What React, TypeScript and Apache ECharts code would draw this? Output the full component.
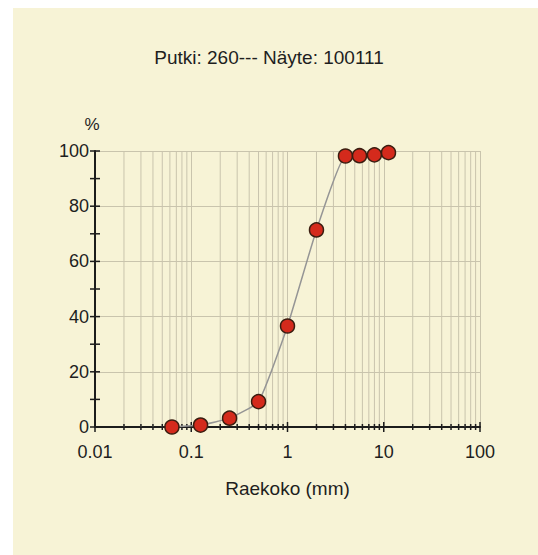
import React, { useEffect, useRef } from "react";
import * as echarts from "echarts";

const titleText = "Putki: 260--- Näyte: 100111";
const xName = "Raekoko (mm)";
const yName = "%";
const grainSizes = [0.063, 0.125, 0.25, 0.5, 1, 2, 4, 5.6, 8, 11.2];
const passingPct = [0, 0.7, 3.2, 9.2, 36.6, 71.4, 98.2, 98.3, 98.6, 99.4];
const xDecades = [0.01, 0.1, 1, 10, 100];
const xMinorMultipliers = [2, 3, 4, 5, 6, 7, 8, 9];
const yMajorTicks = [0, 20, 40, 60, 80, 100];
const yMinorTicks = [10, 30, 50, 70, 90];

const FONT = "'Liberation Sans', Arial, sans-serif";
const BG = "#f7f3d6";
const GRID = "#c9c4ad";
const AXIS = "#1c1c1c";
const TEXT = "#1e1e1e";

export default function App() {
  const ref = useRef<HTMLDivElement>(null);
  useEffect(() => {
    if (!ref.current) return;
    const chart = echarts.init(ref.current, undefined, { renderer: "svg" });
    const xMinor: number[] = [];
    xDecades.slice(0, -1).forEach((d) =>
      xMinorMultipliers.forEach((m) => xMinor.push(+(d * m).toPrecision(3)))
    );
    const xTickData = [
      ...xMinor.map((v) => [v, 0]),
      ...xDecades.map((v) => [v, 1]),
    ];
    const yTickData = [
      ...yMajorTicks.map((v) => [xDecades[0], v]),
      ...yMinorTicks.map((v) => [xDecades[0], v]),
    ];
    chart.setOption({
      animation: false,
      backgroundColor: BG,
      title: {
        text: titleText,
        left: 251,
        textAlign: "center",
        top: 35,
        textStyle: { fontFamily: FONT, fontSize: 19, fontWeight: "normal", color: TEXT },
      },
      grid: { left: 82, right: 58, top: 143, bottom: 128, containLabel: false },
      xAxis: {
        type: "log",
        logBase: 10,
        min: 0.01,
        max: 100,
        name: xName,
        nameLocation: "middle",
        nameGap: 52,
        nameTextStyle: { fontFamily: FONT, fontSize: 19, color: TEXT },
        axisLine: { show: true, lineStyle: { color: AXIS, width: 2 } },
        axisTick: { show: false },
        axisLabel: {
          fontFamily: FONT,
          fontSize: 18,
          color: TEXT,
          margin: 16,
          formatter: (v: number) => String(+(+v).toPrecision(3)),
        },
        splitLine: { show: true, lineStyle: { color: GRID, width: 1 } },
      },
      yAxis: {
        type: "value",
        min: 0,
        max: 100,
        interval: 20,
        name: yName,
        nameLocation: "end",
        nameGap: 18,
        nameTextStyle: { fontFamily: FONT, fontSize: 17, color: TEXT, align: "center", padding: [0, 6, 0, 0] },
        axisLine: { show: true, lineStyle: { color: AXIS, width: 2 } },
        axisTick: { show: false },
        axisLabel: { fontFamily: FONT, fontSize: 18, color: TEXT, margin: 6 },
        splitLine: { show: true, lineStyle: { color: GRID, width: 1 } },
      },
      series: [
        {
          type: "custom",
          silent: true,
          z: 1,
          data: xTickData,
          renderItem: (params: any, api: any) => {
            const v = api.value(0);
            const major = api.value(1) === 1;
            const p0 = api.coord([v, 0]);
            const p1 = api.coord([v, 100]);
            const children: any[] = [];
            if (!major) {
              children.push({
                type: "line",
                shape: { x1: p0[0], y1: p0[1], x2: p1[0], y2: p1[1] },
                style: { stroke: GRID, lineWidth: 1 },
              });
            }
            const t = major ? 5 : 3;
            children.push({
              type: "line",
              shape: { x1: p0[0], y1: p0[1] - t, x2: p0[0], y2: p0[1] + t },
              style: { stroke: AXIS, lineWidth: 1.5 },
            });
            return { type: "group", children };
          },
        },
        {
          type: "custom",
          silent: true,
          z: 1,
          data: yTickData,
          renderItem: (params: any, api: any) => {
            const p = api.coord([api.value(0), api.value(1)]);
            return {
              type: "line",
              shape: { x1: p[0] - 5, y1: p[1], x2: p[0] + 5, y2: p[1] },
              style: { stroke: AXIS, lineWidth: 1.5 },
            };
          },
        },
        {
          type: "line",
          z: 5,
          smooth: 0.15,
          data: grainSizes.map((s, i) => [s, passingPct[i]]),
          symbol: "circle",
          symbolSize: 14,
          lineStyle: { color: "#959595", width: 1.5 },
          itemStyle: { color: "#d42a1c", borderColor: "#3b1d10", borderWidth: 1.5 },
        },
      ],
    });
    return () => chart.dispose();
  }, []);
  return (
    <div
      ref={ref}
      style={{ position: "absolute", left: 13, top: 8, width: 525, height: 547 }}
    />
  );
}
